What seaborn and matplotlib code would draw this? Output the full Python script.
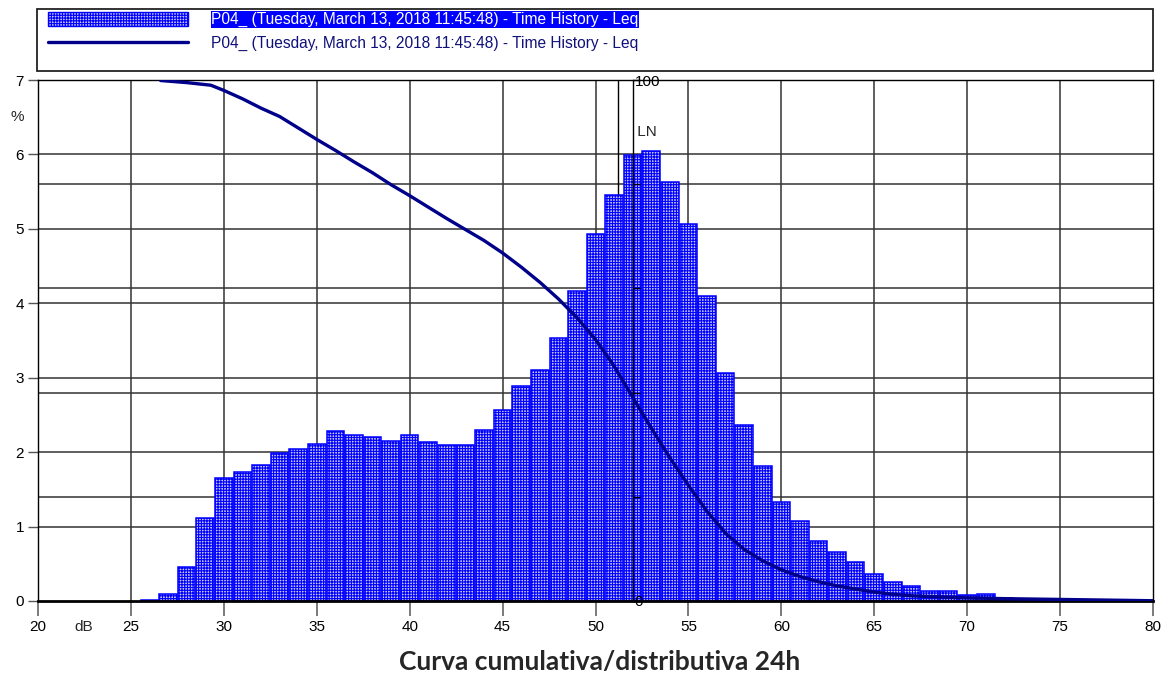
import numpy as np
import pandas as pd
import matplotlib
matplotlib.use("Agg")
import matplotlib.pyplot as plt
from matplotlib.patches import Patch, Rectangle
from matplotlib.lines import Line2D
from matplotlib.transforms import blended_transform_factory
import seaborn as sns

# Level distribution (1 dB classes, % of time)
LEVEL_DB = [26, 27, 28, 29, 30, 31, 32, 33, 34, 35, 36, 37, 38, 39, 40, 41, 42, 43,
            44, 45, 46, 47, 48, 49, 50, 51, 52, 53, 54, 55, 56, 57, 58, 59, 60, 61,
            62, 63, 64, 65, 66, 67, 68, 69, 70, 71, 72, 73, 74, 75]
DIST_PCT = [0.01, 0.09, 0.46, 1.12, 1.65, 1.73, 1.83, 1.99, 2.04, 2.11, 2.28, 2.23,
            2.20, 2.15, 2.23, 2.13, 2.09, 2.10, 2.30, 2.56, 2.89, 3.10, 3.54, 4.16,
            4.93, 5.46, 5.99, 6.04, 5.63, 5.07, 4.10, 3.06, 2.37, 1.82, 1.33, 1.08,
            0.80, 0.66, 0.52, 0.36, 0.26, 0.20, 0.14, 0.13, 0.08, 0.09, 0.04, 0.03,
            0.02, 0.01]

# Cumulative exceedance curve LN (%)
CURVE_DB = [26.6, 28.0, 29.3, 30, 31, 32, 33, 34, 35, 36, 37, 38, 39, 40, 41, 42,
            43, 44, 45, 46, 47, 48, 49, 50, 51, 52, 53, 54, 55, 56, 57, 58, 59, 60,
            61, 62, 63, 64, 65, 66, 67, 68, 70, 72, 75, 80]
CURVE_LN = [99.9, 99.5, 99.0, 98.0, 96.4, 94.6, 93.0, 90.8, 88.6, 86.5, 84.3, 82.2,
            79.9, 77.8, 75.6, 73.4, 71.3, 69.2, 66.8, 64.1, 61.2, 58.0, 54.4, 50.2,
            45.1, 39.1, 33.2, 27.5, 22.2, 17.2, 13.0, 9.9, 7.7, 6.0, 4.7, 3.7, 2.9,
            2.3, 1.7, 1.3, 1.0, 0.85, 0.6, 0.45, 0.3, 0.05]

X_TICKS = [20, 25, 30, 35, 40, 45, 50, 55, 60, 65, 70, 75, 80]
Y_TICKS = [0, 1, 2, 3, 4, 5, 6, 7]
LN_TICKS = [0, 20, 40, 60, 80, 100]
LN_TICK_LABELS = ["0", "", "", "", "", "100"]
LN_AXIS_DB = 52.0
MARK_DB = 51.2

SERIES_LABEL = "P04_ (Tuesday, March 13, 2018 11:45:48) - Time History - Leq"
TITLE = "Curva cumulativa/distributiva 24h"

sns.set_theme(style="white")
plt.rcParams["font.family"] = ["Liberation Sans", "DejaVu Sans"]
plt.rcParams["hatch.linewidth"] = 0.8

BAR_BLUE = "#0000ff"
BAR_FACE = "#c8c8ff"
LINE_BLUE = "#00008b"
GRID = "#333333"
HATCH = "++++++"

W, H = 1167, 675
fig = plt.figure(figsize=(W / 100, H / 100), dpi=100)
fig.patch.set_facecolor("white")

L, R, T, B = 38, 1153, 80, 601
ax = fig.add_axes([L / W, 1 - B / H, (R - L) / W, (B - T) / H])
ax.set_facecolor("white")

df = pd.DataFrame({"level": LEVEL_DB, "pct": DIST_PCT})
sns.histplot(data=df, x="level", weights="pct", discrete=True, shrink=0.95,
             ax=ax, color=BAR_FACE, facecolor=BAR_FACE, edgecolor=BAR_BLUE,
             linewidth=1.1, hatch=HATCH, alpha=1, zorder=2)

ax.set_xlim(20, 80)
ax.set_ylim(0, 7)
ax.set_xticks(X_TICKS)
ax.set_yticks(Y_TICKS)
ax.set_xlabel("")
ax.set_ylabel("")

# grid
ax.grid(False)
for xv in X_TICKS[1:-1]:
    ax.axvline(xv, color=GRID, lw=1.1, zorder=0.5)
for yv in Y_TICKS[1:-1]:
    ax.axhline(yv, color=GRID, lw=1.1, zorder=0.5)
ax.axvline(MARK_DB, color="black", lw=1.0, zorder=0.6)

ax.tick_params(axis="x", direction="out", length=11, width=1.4, color="#7a7a7a",
               pad=2.5, labelsize=11, labelcolor="black", bottom=True)
ax.tick_params(axis="y", direction="out", length=7, width=1.0, color="#555555",
               pad=3, labelsize=11, labelcolor="black", left=True)
for side in ["left", "top", "right"]:
    ax.spines[side].set_color("black")
    ax.spines[side].set_linewidth(1.0)
ax.spines["bottom"].set_color("black")
ax.spines["bottom"].set_linewidth(2.0)

# secondary LN axis
ax2 = ax.twinx()
ax2.set_ylim(0, 100)
sec = blended_transform_factory(ax.transAxes, ax2.transData)
for v in LN_TICKS[1:-1]:
    ax.plot([0, 1], [v, v], transform=sec, color=GRID, lw=1.1, zorder=0.5)

sns.lineplot(x=CURVE_DB, y=CURVE_LN, ax=ax2, color=LINE_BLUE, linewidth=2.4,
             zorder=5)
ax2.set_xlim(20, 80)
ax2.set_ylabel("")
ax2.set_yticks(LN_TICKS)
ax2.set_yticklabels(LN_TICK_LABELS)
ax2.tick_params(axis="y", direction="out", length=5, width=1.0, color="black",
                pad=-3.5, labelsize=11, labelcolor="black", right=True)
for side in ["left", "top", "bottom"]:
    ax2.spines[side].set_visible(False)
ax2.spines["right"].set_position(("data", LN_AXIS_DB))
ax2.spines["right"].set_color("black")
ax2.spines["right"].set_linewidth(1.0)
ax2.text(LN_AXIS_DB, 90, " LN", ha="left", va="center", fontsize=11)

# axis captions
fig.text(17 / W, 1 - 117 / H, "%", ha="center", va="center", fontsize=11)
fig.text(84 / W, 1 - 627 / H, "dB", ha="center", va="center", fontsize=11)
fig.text(600 / W, 1 - 662 / H, TITLE, ha="center", va="center", fontsize=19,
         fontweight="bold", family=["Lato", "DejaVu Sans"])

# legend
fig.patches.append(Rectangle((37 / W, 1 - 71 / H), (1153 - 37) / W, 62 / H,
                             transform=fig.transFigure, facecolor="white",
                             edgecolor="#222222", lw=1.3, zorder=0))
handles = [Patch(facecolor=BAR_FACE, edgecolor=BAR_BLUE, hatch=HATCH, lw=1.0),
           Line2D([0], [0], color=LINE_BLUE, lw=2.4)]
fs = 11.2
leg = fig.legend(handles, [SERIES_LABEL, SERIES_LABEL], loc="upper left",
                 bbox_to_anchor=(48 / W, 1 - 11.5 / H), frameon=False,
                 fontsize=fs, handlelength=9.0, handleheight=1.1,
                 handletextpad=1.5, labelspacing=0.5, borderpad=0,
                 borderaxespad=0)
t0, t1 = leg.get_texts()
t0.set_color("white")
t0.set_bbox(dict(boxstyle="square,pad=0.05", facecolor="#0000ff", edgecolor="none"))
t1.set_color("#10107a")

fig.savefig("out.png", dpi=100, facecolor="white")
